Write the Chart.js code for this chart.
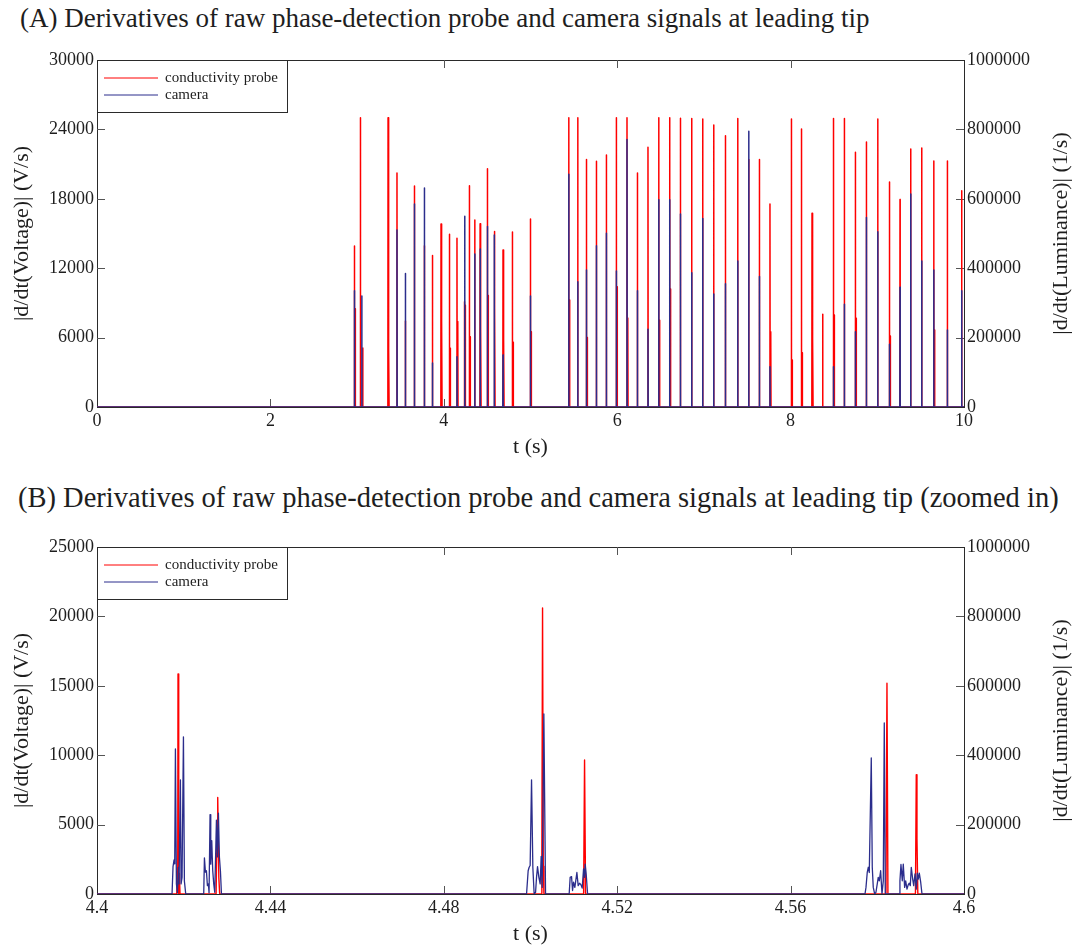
<!DOCTYPE html>
<html>
<head>
<meta charset="utf-8">
<script src="https://cdn.jsdelivr.net/npm/chart.js@4.4.1/dist/chart.umd.min.js"></script>
<style>
    html, body { margin: 0; padding: 0; background: #fff; }
    body { width: 1076px; height: 948px; position: relative; overflow: hidden; }
    .panel-title {
        position: absolute; margin: 0;
        font-family: 'Liberation Serif', 'Times New Roman', serif;
        font-weight: normal; color: #1e1e1e; white-space: nowrap;
    }
    #titleA { left: 20px; top: 5px; font-size: 27px; line-height: 27px; }
    #titleB { left: 18px; top: 484px; font-size: 28.5px; line-height: 28.5px; }
    canvas { position: absolute; left: 0; }
    #chartA { top: 0; }
    #chartB { top: 470px; }
</style>
</head>
<body>
<h2 class="panel-title" id="titleA">(A) Derivatives of raw phase-detection probe and camera signals at leading tip</h2>
<canvas id="chartA" width="1076" height="470"></canvas>
<h2 class="panel-title" id="titleB">(B) Derivatives of raw phase-detection probe and camera signals at leading tip (zoomed in)</h2>
<canvas id="chartB" width="1076" height="478"></canvas>

<script>
// ============================================
// 相位探針與攝影機訊號微分 - 資料
// ============================================

// (A) 0–10 s：探針尖峰時間 (s) 與峰值 (V/s)
const probeTimesA = [
    2.969, 2.979, 3.038, 3.065, 3.357, 3.367, 3.460, 3.557, 3.661, 3.776,
    3.869, 3.968, 3.978, 4.065, 4.075, 4.152, 4.162, 4.238, 4.248, 4.295,
    4.305, 4.357, 4.4187, 4.4278, 4.5028, 4.5125, 4.5822, 4.5890, 4.683, 4.693,
    4.791, 4.801, 4.999, 5.009, 5.441, 5.451, 5.545, 5.645, 5.655, 5.760,
    5.875, 5.990, 6.000, 6.113, 6.123, 6.233, 6.355, 6.479, 6.489, 6.605,
    6.615, 6.729, 6.859, 6.986, 7.113, 7.248, 7.390, 7.517, 7.640, 7.762,
    7.772, 8.009, 8.019, 8.125, 8.135, 8.247, 8.257, 8.370, 8.494, 8.504,
    8.620, 8.747, 8.757, 8.874, 9.005, 9.140, 9.150, 9.262, 9.385, 9.512,
    9.651, 9.661, 9.808, 9.973
];
const probePeaksA = [
    13920, 8500, 25000, 5100, 25000, 5000, 20230, 7430, 19100, 13950,
    13100, 15820, 7400, 14930, 5080, 14600, 7400, 9100, 8800, 19130,
    6080, 16170, 15850, 6950, 20600, 9650, 15180, 8600, 13570, 5900,
    15130, 5600, 16250, 6500, 25000, 9250, 25000, 21400, 6000, 21240,
    21790, 25000, 10400, 25000, 7700, 20230, 22450, 25000, 7500, 25000,
    10200, 24960, 24950, 24900, 24380, 23460, 24950, 21400, 21400, 17550,
    6500, 24900, 4060, 24040, 4700, 16750, 5900, 8010, 24950, 7960,
    24950, 22020, 7670, 22910, 24900, 19450, 6140, 17950, 22310, 22390,
    21270, 6660, 21270, 18700
];

// (A) 攝影機尖峰時間 (s) 與峰值 (1/s)
const cameraTimesA = [
    2.969, 3.054, 3.460, 3.557, 3.661, 3.776, 3.869, 4.152, 4.241, 4.357,
    4.4199, 4.5031, 4.5816, 4.683, 4.999, 5.441, 5.545, 5.645, 5.760, 5.875,
    5.990, 6.113, 6.233, 6.355, 6.479, 6.605, 6.729, 6.859, 6.986, 7.113,
    7.248, 7.390, 7.517, 7.640, 7.762, 8.494, 8.620, 8.747, 8.874, 9.005,
    9.140, 9.262, 9.385, 9.512, 9.651, 9.808, 9.973
];
const cameraPeaksA = [
    335000, 320000, 510000, 385000, 585000, 631000, 127000, 145000, 550000, 441000,
    455000, 520000, 496000, 150000, 320000, 671000, 361000, 395000, 465000, 501000,
    392000, 771000, 335000, 224000, 597000, 597000, 556000, 387000, 543000, 326000,
    355000, 421000, 795000, 376000, 116000, 116000, 296000, 217000, 546000, 505000,
    181000, 345000, 614000, 421000, 395000, 222000, 335000
];

// (B) 4.4–4.6 s 放大：探針訊號 (V/s)
const probeTimesB = [
    4.4,
    4.41840, 4.41854, 4.41862, 4.41869, 4.41885, 4.41900, 4.41915,
    4.42747, 4.42770, 4.42785, 4.42810, 4.42830,
    4.50250, 4.50262, 4.50278, 4.50295, 4.50310,
    4.51225, 4.51247, 4.51270,
    4.58200, 4.58223, 4.58245,
    4.58880, 4.58899, 4.58915, 4.58935,
    4.6
];
const probeValuesB = [
    0,
    0, 1900, 400, 15850, 0, 1500, 0,
    0, 4500, 6950, 1200, 0,
    0, 2500, 20600, 2000, 0,
    0, 9650, 0,
    0, 15180, 0,
    0, 8600, 4000, 0,
    0
];

// (B) 攝影機訊號 (1/s)
const cameraTimesB = [
    4.4,
    4.41731, 4.41754, 4.41777, 4.41793, 4.41809, 4.41832, 4.41855, 4.41878,
    4.41892, 4.41924, 4.41939, 4.41962, 4.41994, 4.42016, 4.42047,
    4.42462, 4.42478, 4.42501, 4.42524, 4.42547, 4.42570, 4.42585, 4.42608,
    4.42624, 4.42647, 4.42670, 4.42693, 4.42716, 4.42739, 4.42755, 4.42778,
    4.42801, 4.42824, 4.42847, 4.42871,
    4.49909, 4.49946, 4.49969, 4.49992, 4.50024, 4.50054, 4.50084, 4.50117,
    4.50139, 4.50162, 4.50193, 4.50223, 4.50246, 4.50270, 4.50308, 4.50347,
    4.50892, 4.50915, 4.50947, 4.50970, 4.50993, 4.51023, 4.51046, 4.51070,
    4.51100, 4.51132, 4.51162, 4.51192, 4.51224, 4.51247, 4.51261, 4.51284,
    4.51317,
    4.57716, 4.57739, 4.57768, 4.57792, 4.57815, 4.57861, 4.57884, 4.57907,
    4.57939, 4.57969, 4.57999, 4.58022, 4.58046, 4.58077, 4.58108, 4.58138,
    4.58161, 4.58184,
    4.58507, 4.58522, 4.58546, 4.58576, 4.58599, 4.58631, 4.58655, 4.58685,
    4.58715, 4.58738, 4.58761, 4.58784, 4.58816, 4.58840, 4.58870, 4.58899,
    4.58922, 4.58946, 4.58969, 4.59001, 4.59031,
    4.6
];
const cameraValuesB = [
    0,
    0, 79000, 98000, 87000, 418000, 29000, 3000, 77000,
    29000, 329000, 29000, 48000, 453000, 37000, 0,
    0, 104000, 63000, 67000, 24000, 29000, 3000, 229000,
    86000, 154000, 67000, 29000, 5000, 124000, 213000, 107000,
    233000, 106000, 67000, 0,
    0, 67000, 77000, 82000, 329000, 77000, 0, 5000,
    48000, 79000, 48000, 29000, 108000, 19000, 519000, 0,
    0, 48000, 50000, 10000, 34000, 19000, 40000, 62000,
    24000, 31000, 27000, 17000, 72000, 48000, 86000, 58000,
    0,
    0, 19000, 62000, 77000, 62000, 392000, 77000, 19000,
    0, 5000, 29000, 48000, 38000, 67000, 0, 38000,
    493000, 0,
    0, 38000, 85000, 38000, 86000, 19000, 38000, 14000,
    27000, 31000, 24000, 77000, 43000, 24000, 58000, 14000,
    60000, 43000, 60000, 34000, 0,
    0
];

// 刻度
const xTicksA = [0, 2, 4, 6, 8, 10];
const yTicksA = [0, 6000, 12000, 18000, 24000, 30000];
const xTicksB = [4.4, 4.44, 4.48, 4.52, 4.56, 4.6];
const yTicksB = [0, 5000, 10000, 15000, 20000, 25000];
const lumTicks = [0, 200000, 400000, 600000, 800000, 1000000];

// ============================================
// 繪圖設定
// ============================================
const RED = '#ff0000';
const NAVY = '#2b2d8c';
const INK = '#1e1e1e';
const SERIF = "'Liberation Serif', 'Times New Roman', serif";
const TICK_LEN = 8;
const SPIKE_HALF = 0.002;

// 每個尖峰畫成 0 → 峰值 → 0，前後接上基線
function spikeSeries(times, peaks, xMin, xMax) {
    const pts = [{ x: xMin, y: 0 }];
    times.forEach((t, i) => {
        pts.push({ x: t - SPIKE_HALF, y: 0 }, { x: t, y: peaks[i] }, { x: t + SPIKE_HALF, y: 0 });
    });
    pts.push({ x: xMax, y: 0 });
    return pts;
}

function pairSeries(times, values) {
    return times.map((t, i) => ({ x: t, y: values[i] }));
}

// 外框、向內刻度、座標軸標題與圖例
const framePlugin = {
    id: 'frame',
    beforeDatasetsDraw(chart, args, opts) {
        const { ctx, chartArea: a, scales } = chart;
        ctx.save();
        ctx.strokeStyle = '#2a2a2a';
        ctx.lineWidth = 1;
        ctx.strokeRect(a.left + 0.5, a.top + 0.5, a.right - a.left, a.bottom - a.top);

        ctx.strokeStyle = '#555';
        ctx.beginPath();
        scales.x.ticks.forEach(t => {
            const px = Math.round(scales.x.getPixelForValue(t.value)) + 0.5;
            if (px < a.left + 2 || px > a.right - 2) return;
            ctx.moveTo(px, a.bottom); ctx.lineTo(px, a.bottom - TICK_LEN);
            ctx.moveTo(px, a.top); ctx.lineTo(px, a.top + TICK_LEN);
        });
        scales.y.ticks.forEach(t => {
            const py = Math.round(scales.y.getPixelForValue(t.value)) + 0.5;
            if (py < a.top + 2 || py > a.bottom - 2) return;
            ctx.moveTo(a.left, py); ctx.lineTo(a.left + TICK_LEN, py);
        });
        scales.y1.ticks.forEach(t => {
            const py = Math.round(scales.y1.getPixelForValue(t.value)) + 0.5;
            if (py < a.top + 2 || py > a.bottom - 2) return;
            ctx.moveTo(a.right, py); ctx.lineTo(a.right - TICK_LEN, py);
        });
        ctx.stroke();

        // 座標軸標題
        ctx.fillStyle = INK;
        ctx.font = '22px ' + SERIF;
        ctx.textAlign = 'center';
        ctx.textBaseline = 'middle';
        ctx.fillText(opts.xTitle, (a.left + a.right) / 2, a.bottom + 40);
        const midY = (a.top + a.bottom) / 2;
        [[22, opts.yTitle], [1061, opts.y1Title]].forEach(([x, text]) => {
            ctx.save();
            ctx.translate(x, midY);
            ctx.rotate(-Math.PI / 2);
            ctx.fillText(text, 0, 0);
            ctx.restore();
        });
        ctx.restore();
    },
    afterDraw(chart, args, opts) {
        const { ctx, chartArea: a } = chart;
        const x0 = a.left + 0.5, y0 = a.top + 0.5;
        ctx.save();
        ctx.fillStyle = '#fff';
        ctx.fillRect(x0, y0, 190, 52);
        ctx.strokeStyle = '#2a2a2a';
        ctx.lineWidth = 1;
        ctx.strokeRect(x0, y0, 190, 52);

        ctx.font = '15px ' + SERIF;
        ctx.fillStyle = INK;
        ctx.textBaseline = 'middle';
        ctx.textAlign = 'left';
        chart.data.datasets.forEach((ds, i) => {
            const y = a.top + 18 + i * 17;
            ctx.strokeStyle = ds.borderColor;
            ctx.beginPath();
            ctx.moveTo(a.left + 7, y);
            ctx.lineTo(a.left + 61, y);
            ctx.stroke();
            ctx.fillText(ds.label, a.left + 68, y);
        });
        ctx.restore();
    }
};

function tickAxis(values, pos, extra) {
    return Object.assign({
        position: pos,
        afterBuildTicks: axis => { axis.ticks = values.map(v => ({ value: v })); },
        ticks: {
            font: { family: SERIF, size: 18 },
            color: INK,
            autoSkip: false,
            maxRotation: 0,
            callback: value => String(value)
        },
        grid: { display: false, drawTicks: false },
        border: { display: false }
    }, extra);
}

function buildPanel(canvasId, cfg) {
    return new Chart(document.getElementById(canvasId), {
        type: 'line',
        data: {
            datasets: [{
                label: 'conductivity probe',
                data: cfg.probe,
                yAxisID: 'y',
                borderColor: RED,
                borderWidth: cfg.probeWidth,
                order: 1
            }, {
                label: 'camera',
                data: cfg.camera,
                yAxisID: 'y1',
                borderColor: NAVY,
                borderWidth: cfg.cameraWidth,
                order: 0
            }]
        },
        options: {
            responsive: false,
            animation: false,
            events: [],
            elements: {
                point: { radius: 0 },
                line: { tension: 0, fill: false, borderJoinStyle: 'round' }
            },
            layout: { padding: { top: cfg.padTop, left: 0, right: 0, bottom: 0 } },
            plugins: {
                legend: { display: false },
                tooltip: { enabled: false },
                frame: {
                    xTitle: 't (s)',
                    yTitle: '|d/dt(Voltage)| (V/s)',
                    y1Title: '|d/dt(Luminance)| (1/s)'
                }
            },
            scales: {
                x: tickAxis(cfg.xTicks, 'bottom', {
                    type: 'linear', min: cfg.xTicks[0], max: cfg.xTicks[cfg.xTicks.length - 1],
                    afterFit: s => { s.height = cfg.xHeight; }
                }),
                y: tickAxis(cfg.yTicks, 'left', {
                    min: 0, max: cfg.yTicks[cfg.yTicks.length - 1],
                    afterFit: s => { s.width = 97; }
                }),
                y1: tickAxis(lumTicks, 'right', {
                    min: 0, max: 1000000,
                    afterFit: s => { s.width = 112; }
                })
            }
        },
        plugins: [framePlugin]
    });
}

document.addEventListener('DOMContentLoaded', function () {
    buildPanel('chartA', {
        probe: spikeSeries(probeTimesA, probePeaksA, 0, 10),
        camera: spikeSeries(cameraTimesA, cameraPeaksA, 0, 10),
        xTicks: xTicksA, yTicks: yTicksA,
        padTop: 60, xHeight: 63,
        probeWidth: 1.5, cameraWidth: 1.5
    });
    buildPanel('chartB', {
        probe: pairSeries(probeTimesB, probeValuesB),
        camera: pairSeries(cameraTimesB, cameraValuesB),
        xTicks: xTicksB, yTicks: yTicksB,
        padTop: 77, xHeight: 54,
        probeWidth: 1.4, cameraWidth: 1.3
    });
});
</script>
</body>
</html>
